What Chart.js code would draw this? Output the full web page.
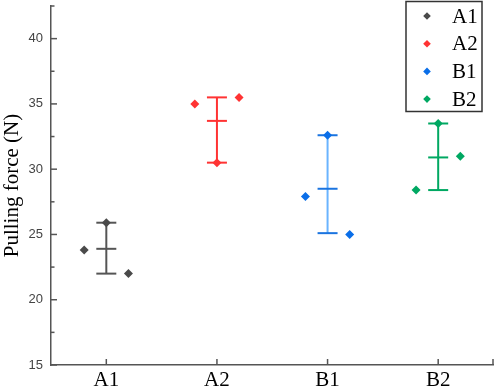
<!DOCTYPE html>
<html><head><meta charset="utf-8">
<script src="https://cdn.jsdelivr.net/npm/chart.js@4/dist/chart.umd.min.js"></script>
<style>html,body{margin:0;padding:0;background:#fff}#wrap{width:498px;height:390px;position:relative}</style>
</head><body><div id="wrap"><canvas id="c"></canvas></div>
<script>
const categories = ['A1', 'A2', 'B1', 'B2'];
const offsets = [-0.2, 0, 0.2];
const valuesA1 = [23.8, 25.9, 22.0];
const valuesA2 = [35.0, 30.5, 35.5];
const valuesB1 = [27.9, 32.6, 25.0];
const valuesB2 = [28.4, 33.5, 31.0];
const means = [23.9, 33.7, 28.5, 30.9];
const errLow = [22.0, 30.5, 25.1, 28.4];
const errHigh = [25.9, 35.5, 32.6, 33.5];
const yTicks = [15, 20, 25, 30, 35, 40];
const yMinorTicks = [17.5, 22.5, 27.5, 32.5, 37.5, 42.5];

const pointColors = ['#4a4a4a', '#ff3333', '#0a6ee8', '#00a862'];
const stemColors = ['#555555', '#ff3333', '#6ab4ff', '#00a862'];
const capColors = ['#555555', '#ff3333', '#1a74e0', '#00a862'];
const seriesValues = [valuesA1, valuesA2, valuesB1, valuesB2];

const datasets = categories.map((name, i) => ({
  label: name,
  data: seriesValues[i].map((v, j) => ({x: i + 1 + offsets[j], y: v})),
  pointStyle: 'rectRot',
  pointRadius: 4.5,
  pointHoverRadius: 4.5,
  backgroundColor: pointColors[i],
  borderColor: pointColors[i],
  borderWidth: 0,
  showLine: false
}));

const errorBars = {
  id: 'errorBars',
  beforeDatasetsDraw(chart) {
    const ctx = chart.ctx, xs = chart.scales.x, ys = chart.scales.y;
    ctx.save();
    ctx.lineWidth = 2;
    categories.forEach((c, i) => {
      const px = xs.getPixelForValue(i + 1);
      const hi = ys.getPixelForValue(errHigh[i]);
      const lo = ys.getPixelForValue(errLow[i]);
      const m = ys.getPixelForValue(means[i]);
      ctx.strokeStyle = stemColors[i];
      ctx.beginPath(); ctx.moveTo(px, hi); ctx.lineTo(px, lo); ctx.stroke();
      ctx.strokeStyle = capColors[i];
      [hi, lo, m].forEach(py => {
        ctx.beginPath(); ctx.moveTo(px - 10, py); ctx.lineTo(px + 10, py); ctx.stroke();
      });
    });
    ctx.restore();
  },
  afterDraw(chart) {
    const ctx = chart.ctx, xs = chart.scales.x, ys = chart.scales.y;
    const area = chart.chartArea;
    ctx.save();
    ctx.strokeStyle = '#555';
    ctx.lineWidth = 1.5;
    yTicks.forEach(v => {
      const py = ys.getPixelForValue(v);
      ctx.beginPath(); ctx.moveTo(area.left, py); ctx.lineTo(area.left + 6, py); ctx.stroke();
    });
    yMinorTicks.forEach(v => {
      const py = ys.getPixelForValue(v);
      ctx.beginPath(); ctx.moveTo(area.left, py); ctx.lineTo(area.left + 3.5, py); ctx.stroke();
    });
    categories.forEach((c, i) => {
      const px = xs.getPixelForValue(i + 1);
      ctx.beginPath(); ctx.moveTo(px, area.bottom); ctx.lineTo(px, area.bottom - 6); ctx.stroke();
    });
    const pxEnd = xs.getPixelForValue(4.5);
    ctx.beginPath(); ctx.moveTo(pxEnd - 0.5, area.bottom); ctx.lineTo(pxEnd - 0.5, area.bottom - 6); ctx.stroke();
    const bx = 406, by = 1.5, bw = 76, bh = 110;
    ctx.fillStyle = '#fff';
    ctx.fillRect(bx, by, bw, bh);
    ctx.strokeStyle = '#333';
    ctx.lineWidth = 1.5;
    ctx.strokeRect(bx, by, bw, bh);
    ctx.font = '21px "Liberation Serif"';
    ctx.textBaseline = 'middle';
    ctx.textAlign = 'left';
    categories.forEach((c, i) => {
      const cy = 16 + i * 27.7;
      const cx = 427;
      ctx.fillStyle = pointColors[i];
      ctx.beginPath();
      ctx.moveTo(cx, cy - 3.8); ctx.lineTo(cx + 3.8, cy); ctx.lineTo(cx, cy + 3.8); ctx.lineTo(cx - 3.8, cy);
      ctx.closePath(); ctx.fill();
      ctx.fillStyle = '#000';
      ctx.fillText(c, 452, cy + 1);
    });
    ctx.restore();
  }
};

new Chart(document.getElementById('c'), {
  type: 'scatter',
  data: { datasets },
  plugins: [errorBars],
  options: {
    responsive: true,
    maintainAspectRatio: false,
    animation: false,
    layout: { padding: { top: 6, right: 3, left: 0, bottom: 0 } },
    plugins: { legend: { display: false }, tooltip: { enabled: false } },
    scales: {
      x: {
        type: 'linear', min: 0.5, max: 4.5,
        afterBuildTicks: s => { s.ticks = categories.map((c, i) => ({value: i + 1})); },
        afterFit: s => { s.height = 25; s.paddingLeft = 0; s.paddingRight = 0; },
        grid: { display: false, drawTicks: false },
        border: { display: true, color: '#555', width: 1.5 },
        ticks: {
          padding: 3, color: '#000', maxRotation: 0, autoSkip: false,
          font: { family: 'Liberation Serif', size: 21 },
          callback: v => categories[Math.round(v) - 1]
        }
      },
      y: {
        min: 15, max: 42.5,
        afterBuildTicks: s => { s.ticks = yTicks.map(v => ({value: v})); },
        afterFit: s => { s.width = 51; s.paddingTop = 0; s.paddingBottom = 0; },
        grid: { display: false, drawTicks: false },
        border: { display: true, color: '#555', width: 1.5 },
        ticks: { padding: 8, color: '#444', font: { family: 'Liberation Sans', size: 13 } },
        title: {
          display: true, text: 'Pulling force (N)', color: '#000',
          font: { family: 'Liberation Serif', size: 21 }, padding: { top: 0, bottom: 0 }
        }
      }
    }
  }
});
</script></body></html>
